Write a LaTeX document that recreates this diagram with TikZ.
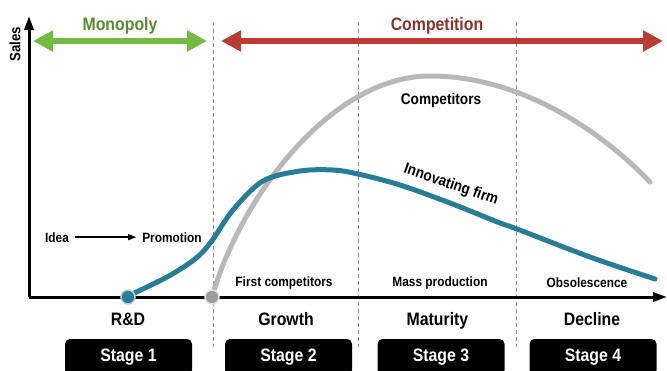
\documentclass[tikz,border=0pt]{standalone}
\usepackage{fontspec}
\setmainfont{Liberation Sans}[FakeStretch=0.88]
\usetikzlibrary{arrows.meta}
\definecolor{curveblue}{RGB}{40,124,150}
\definecolor{curvegray}{RGB}{184,184,184}
\definecolor{arrowgreen}{RGB}{114,186,66}
\definecolor{textgreen}{RGB}{86,140,48}
\definecolor{arrowred}{RGB}{184,60,50}
\definecolor{textred}{RGB}{140,50,42}
\definecolor{dashgray}{RGB}{140,140,140}
\tikzset{
  bigtitle/.style={font=\bfseries\fontsize{18}{20}\selectfont, anchor=base, inner sep=0pt},
  stagename/.style={font=\bfseries\fontsize{18}{20}\selectfont, anchor=base, inner sep=0pt},
  stagebox/.style={fill=black, rounded corners=5pt, minimum width=127pt, minimum height=36pt,
     text=white, font=\bfseries\fontsize{18}{20}\selectfont, inner sep=0pt},
  note/.style={font=\bfseries\fontsize{13.5}{15}\selectfont, anchor=base, inner sep=0pt},
  curvelabel/.style={font=\bfseries\fontsize{15.5}{17}\selectfont, inner sep=0pt},
  bigarrow/.style={line width=6pt, {Triangle[length=20pt,width=20pt]}-{Triangle[length=20pt,width=20pt]}},
  axis/.style={line width=3pt, -{Triangle[length=14pt,width=9pt]}},
  divider/.style={dashgray, line width=0.8pt, dash pattern=on 4pt off 3pt},
  salescurve/.style={line width=5pt, line cap=round},
  startdot/.style={circle, minimum size=14pt, inner sep=0pt, line width=1.5pt}
}
\begin{document}
\begin{tikzpicture}[x=1pt,y=-1pt]
\useasboundingbox (0,0) rectangle (667,370);
\clip (0,0) rectangle (667,370);

% dividers
\coordinate (d1t) at (213,22); \coordinate (d1b) at (213,347);
\coordinate (d2t) at (358,22); \coordinate (d2b) at (358,347);
\coordinate (d3t) at (516,22); \coordinate (d3b) at (516,347);
\draw[divider] (d1t) -- (d1b);
\draw[divider] (d2t) -- (d2b);
\draw[divider] (d3t) -- (d3b);

% axes
\coordinate (origin) at (29,297);
\coordinate (ytop) at (29,16);
\coordinate (xend) at (667,297);
\draw[axis] (origin) -- (ytop);
\draw[axis] (origin) -- (xend);
\node[font=\bfseries\fontsize{15}{17}\selectfont, rotate=90, inner sep=0pt] (sales) at (15,44) {Sales};

% top arrows
\coordinate (gl) at (33,41); \coordinate (gr) at (207,41);
\draw[bigarrow, arrowgreen] (gl) -- (gr);
\node[bigtitle, text=textgreen] (mono) at (120,30) {Monopoly};
\coordinate (rl) at (221,41); \coordinate (rr) at (663,41);
\draw[bigarrow, arrowred] (rl) -- (rr);
\node[bigtitle, text=textred] (comp) at (437,30.5) {Competition};

% curves
\coordinate (gstart) at (213,294);
\coordinate (gpeak) at (430,76);
\coordinate (gend) at (650,182);
\draw[salescurve, curvegray] (gstart) .. controls (240,200) and (330,76) .. (gpeak)
   .. controls (520,76) and (600,130) .. (gend);
\draw[salescurve, curveblue] plot[smooth, tension=0.55] coordinates {
 (128,296) (167,277) (195,259) (211,242) (233,210) (263,181) (300,171) (333,170) (358,174) (400,185) (450,203) (500,223) (517,229) (590,257) (655,279)};

\node[startdot, fill=curveblue, draw=curveblue!35] (dotblue) at (128,297) {};
\node[startdot, fill=curvegray!85!black, draw=curvegray!40] (dotgray) at (212,297) {};

% curve labels
\node[curvelabel] (competitors) at (441,100) {Competitors};
\node[curvelabel, rotate=-19] (innov) at (451,185) {Innovating firm};

% notes
\node[note, inner xsep=6pt] (idea) at (57,242) {Idea};
\node[note, inner xsep=6pt] (promo) at (172,242) {Promotion};
\draw[line width=1.5pt, -{Triangle[length=8pt,width=6pt]}] (idea.east) -- (promo.west);
\node[note] (firstc) at (284,286) {First competitors};
\node[note] (massp) at (440,286) {Mass production};
\node[note] (obsol) at (587,287) {Obsolescence};

% stage names
\node[stagename] (rd) at (128,325) {R\&D};
\node[stagename] (growth) at (286,325) {Growth};
\node[stagename] (maturity) at (437.5,325) {Maturity};
\node[stagename] (decline) at (592,325) {Decline};

% stage boxes
\node[stagebox] (s1) at (128.5,357) {Stage 1};
\node[stagebox] (s2) at (288.5,357) {Stage 2};
\node[stagebox] (s3) at (441,357) {Stage 3};
\node[stagebox] (s4) at (593,357) {Stage 4};
\end{tikzpicture}
\end{document}
